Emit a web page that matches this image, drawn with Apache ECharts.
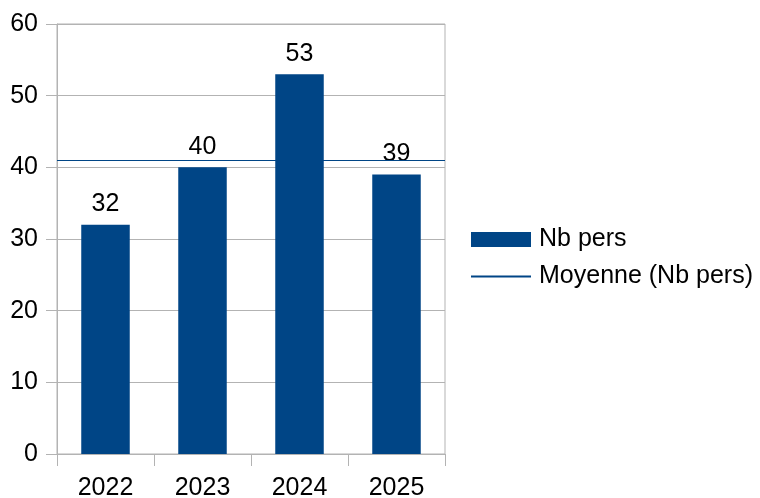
<!DOCTYPE html>
<html>
<head>
<meta charset="utf-8">
<script src="https://cdn.jsdelivr.net/npm/echarts@6/dist/echarts.min.js"></script>
<style>html,body{margin:0;padding:0;background:#fff;}#c{width:760px;height:498px;}</style>
</head>
<body>
<div id="c"></div>
<script>
var categories = ['2022', '2023', '2024', '2025'];
var nbPers = [32, 40, 53, 39];
var yTicks = { min: 0, max: 60, interval: 10 };
var seriesNames = ['Nb pers', 'Moyenne (Nb pers)'];

var avg = nbPers.reduce(function (a, b) { return a + b; }, 0) / nbPers.length;
var FONT = 'Liberation Sans';
var FS = 25;
var GRAY = '#b3b3b3';
var BLUE = '#004586';

var chart = echarts.init(document.getElementById('c'));
chart.setOption({
  animation: false,
  textStyle: { fontFamily: FONT },
  grid: { left: 57, right: 315, top: 24, bottom: 44, show: true, borderColor: GRAY, borderWidth: 1, outerBoundsMode: 'none', containLabel: false },
  legend: {
    orient: 'vertical',
    left: 465,
    top: 222,
    itemWidth: 60,
    itemHeight: 15,
    itemGap: 12,
    textStyle: { fontFamily: FONT, fontSize: FS, color: '#000', padding: [0, 0, 0, 3] },
    data: [
      { name: seriesNames[0], icon: 'rect' },
      { name: seriesNames[1], itemStyle: { opacity: 0 } }
    ]
  },
  xAxis: {
    type: 'category',
    data: categories,
    axisLine: { lineStyle: { color: GRAY } },
    axisTick: { show: true, length: 12, lineStyle: { color: GRAY } },
    axisLabel: { color: '#000', fontSize: FS, fontFamily: FONT, margin: 22 }
  },
  yAxis: {
    type: 'value',
    min: yTicks.min, max: yTicks.max, interval: yTicks.interval,
    axisLine: { show: true, lineStyle: { color: GRAY } },
    axisTick: { show: true, length: 11, lineStyle: { color: GRAY } },
    splitLine: { lineStyle: { color: GRAY } },
    axisLabel: { color: '#000', fontSize: FS, fontFamily: FONT, margin: 19 }
  },
  series: [
    {
      name: seriesNames[0],
      type: 'bar',
      data: nbPers,
      barWidth: '50%',
      itemStyle: { color: BLUE },
      label: { show: true, position: 'top', distance: 8, color: '#000', fontSize: FS, fontFamily: FONT }
    },
    {
      name: seriesNames[1],
      type: 'line',
      data: [],
      symbol: 'none',
      lineStyle: { color: BLUE, width: 1 },
      itemStyle: { color: BLUE },
      markLine: {
        silent: true,
        symbol: 'none',
        label: { show: false },
        lineStyle: { color: BLUE, width: 1, type: 'solid' },
        data: [{ yAxis: avg }]
      }
    }
  ]
});
</script>
</body>
</html>
